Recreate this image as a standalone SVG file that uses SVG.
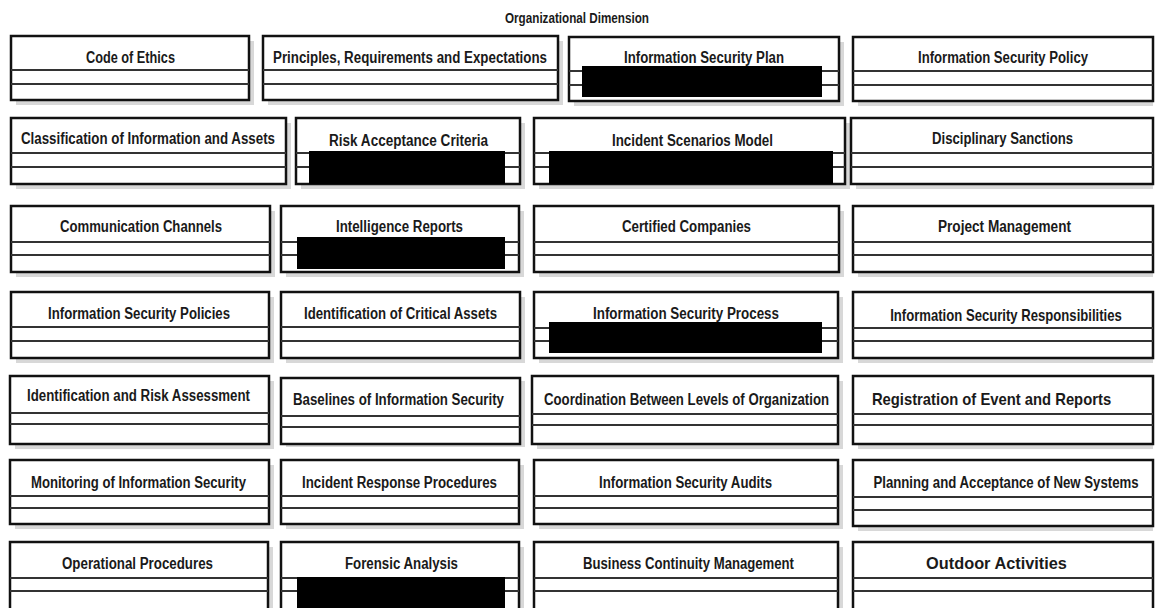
<svg xmlns="http://www.w3.org/2000/svg" width="1157" height="608" viewBox="0 0 1157 608">
<style>
.sh{fill:#d8d8d8}
.bx{fill:#fff;stroke:#111;stroke-width:2.5}
.dv{stroke:#333;stroke-width:2}
.t{font-family:"Liberation Sans Narrow","Liberation Sans",Arial,sans-serif;font-weight:bold;font-size:16px;fill:#1a1a1a;text-anchor:middle}
.rd{fill:#000}
</style>
<rect width="1157" height="608" fill="#fff"/>
<text class="t" x="577" y="23" textLength="144" lengthAdjust="spacingAndGlyphs" style="font-size:15px">Organizational Dimension</text>

<!-- Row 1 -->
<g id="code-of-ethics"><rect class="sh" x="16" y="41" width="238" height="64"/><rect class="bx" x="11" y="36" width="238" height="64"/><line class="dv" x1="11" y1="70" x2="249" y2="70"/><line class="dv" x1="11" y1="84" x2="249" y2="84"/><text class="t" x="130.5" y="63" textLength="89" lengthAdjust="spacingAndGlyphs">Code of Ethics</text></g>
<g id="principles"><rect class="sh" x="268" y="41" width="295" height="64"/><rect class="bx" x="263" y="36" width="295" height="64"/><line class="dv" x1="263" y1="70" x2="558" y2="70"/><line class="dv" x1="263" y1="84" x2="558" y2="84"/><text class="t" x="410" y="63" textLength="274" lengthAdjust="spacingAndGlyphs">Principles, Requirements and Expectations</text></g>
<g id="is-plan"><rect class="sh" x="574" y="42" width="270" height="64"/><rect class="bx" x="569" y="37" width="270" height="64"/><line class="dv" x1="569" y1="71" x2="839" y2="71"/><line class="dv" x1="569" y1="85" x2="839" y2="85"/><text class="t" x="704" y="63" textLength="160" lengthAdjust="spacingAndGlyphs">Information Security Plan</text><rect class="rd" x="582" y="66" width="240" height="31"/></g>
<g id="is-policy"><rect class="sh" x="858" y="42" width="295" height="64"/><rect class="bx" x="853" y="37" width="300" height="64"/><line class="dv" x1="853" y1="71" x2="1153" y2="71"/><line class="dv" x1="853" y1="85" x2="1153" y2="85"/><text class="t" x="1003" y="63" textLength="170" lengthAdjust="spacingAndGlyphs">Information Security Policy</text></g>

<!-- Row 2 -->
<g id="classification"><rect class="sh" x="16" y="123" width="275" height="66"/><rect class="bx" x="11" y="118" width="275" height="66"/><line class="dv" x1="11" y1="153" x2="286" y2="153"/><line class="dv" x1="11" y1="167" x2="286" y2="167"/><text class="t" x="148" y="144" textLength="254" lengthAdjust="spacingAndGlyphs">Classification of Information and Assets</text></g>
<g id="risk-acceptance"><rect class="sh" x="301" y="123" width="224" height="66"/><rect class="bx" x="296" y="118" width="224" height="66"/><line class="dv" x1="296" y1="153" x2="520" y2="153"/><line class="dv" x1="296" y1="167" x2="520" y2="167"/><text class="t" x="408.5" y="146" textLength="159" lengthAdjust="spacingAndGlyphs">Risk Acceptance Criteria</text><rect class="rd" x="309" y="151" width="196" height="33"/></g>
<g id="incident-scenarios"><rect class="sh" x="539" y="123" width="311" height="66"/><rect class="bx" x="534" y="118" width="311" height="66"/><line class="dv" x1="534" y1="153" x2="845" y2="153"/><line class="dv" x1="534" y1="167" x2="845" y2="167"/><text class="t" x="692.5" y="146" textLength="161" lengthAdjust="spacingAndGlyphs">Incident Scenarios Model</text><rect class="rd" x="549" y="151" width="284" height="33"/></g>
<g id="disciplinary"><rect class="sh" x="856" y="123" width="297" height="66"/><rect class="bx" x="851" y="118" width="302" height="66"/><line class="dv" x1="851" y1="153" x2="1153" y2="153"/><line class="dv" x1="851" y1="167" x2="1153" y2="167"/><text class="t" x="1002.5" y="144" textLength="141" lengthAdjust="spacingAndGlyphs">Disciplinary Sanctions</text></g>

<!-- Row 3 -->
<g id="communication"><rect class="sh" x="16" y="211" width="259" height="66"/><rect class="bx" x="11" y="206" width="259" height="66"/><line class="dv" x1="11" y1="242" x2="270" y2="242"/><line class="dv" x1="11" y1="255" x2="270" y2="255"/><text class="t" x="141" y="232" textLength="162" lengthAdjust="spacingAndGlyphs">Communication Channels</text></g>
<g id="intelligence"><rect class="sh" x="286" y="211" width="238" height="66"/><rect class="bx" x="281" y="206" width="238" height="66"/><line class="dv" x1="281" y1="242" x2="519" y2="242"/><line class="dv" x1="281" y1="255" x2="519" y2="255"/><text class="t" x="399.5" y="232" textLength="127" lengthAdjust="spacingAndGlyphs">Intelligence Reports</text><rect class="rd" x="297" y="237" width="208" height="32"/></g>
<g id="certified"><rect class="sh" x="539" y="211" width="305" height="66"/><rect class="bx" x="534" y="206" width="305" height="66"/><line class="dv" x1="534" y1="242" x2="839" y2="242"/><line class="dv" x1="534" y1="255" x2="839" y2="255"/><text class="t" x="686.5" y="232" textLength="129" lengthAdjust="spacingAndGlyphs">Certified Companies</text></g>
<g id="project-mgmt"><rect class="sh" x="858" y="211" width="295" height="66"/><rect class="bx" x="853" y="206" width="300" height="66"/><line class="dv" x1="853" y1="242" x2="1153" y2="242"/><line class="dv" x1="853" y1="255" x2="1153" y2="255"/><text class="t" x="1004.5" y="232" textLength="133" lengthAdjust="spacingAndGlyphs">Project Management</text></g>

<!-- Row 4 -->
<g id="is-policies"><rect class="sh" x="16" y="297" width="258" height="66"/><rect class="bx" x="11" y="292" width="258" height="66"/><line class="dv" x1="11" y1="327" x2="269" y2="327"/><line class="dv" x1="11" y1="341" x2="269" y2="341"/><text class="t" x="139" y="319" textLength="182" lengthAdjust="spacingAndGlyphs">Information Security Policies</text></g>
<g id="critical-assets"><rect class="sh" x="286" y="297" width="239" height="66"/><rect class="bx" x="281" y="292" width="239" height="66"/><line class="dv" x1="281" y1="327" x2="520" y2="327"/><line class="dv" x1="281" y1="341" x2="520" y2="341"/><text class="t" x="400.5" y="319" textLength="193" lengthAdjust="spacingAndGlyphs">Identification of Critical Assets</text></g>
<g id="is-process"><rect class="sh" x="539" y="297" width="304" height="66"/><rect class="bx" x="534" y="292" width="304" height="66"/><line class="dv" x1="534" y1="328" x2="838" y2="328"/><line class="dv" x1="534" y1="341" x2="838" y2="341"/><text class="t" x="686" y="319" textLength="186" lengthAdjust="spacingAndGlyphs">Information Security Process</text><rect class="rd" x="549" y="322" width="273" height="31"/></g>
<g id="is-responsibilities"><rect class="sh" x="858" y="297" width="295" height="66"/><rect class="bx" x="853" y="292" width="300" height="66"/><line class="dv" x1="853" y1="328" x2="1153" y2="328"/><line class="dv" x1="853" y1="341" x2="1153" y2="341"/><text class="t" transform="translate(1006,321) scale(0.78,1)" x="0" y="0" textLength="297" lengthAdjust="spacingAndGlyphs">Information Security Responsibilities</text></g>

<!-- Row 5 -->
<g id="risk-assessment"><rect class="sh" x="15" y="381" width="259" height="68"/><rect class="bx" x="10" y="376" width="259" height="68"/><line class="dv" x1="10" y1="413" x2="269" y2="413"/><line class="dv" x1="10" y1="424" x2="269" y2="424"/><text class="t" x="138.5" y="401" textLength="223" lengthAdjust="spacingAndGlyphs">Identification and Risk Assessment</text></g>
<g id="baselines"><rect class="sh" x="286" y="381" width="239" height="66"/><rect class="bx" x="281" y="378" width="239" height="66"/><line class="dv" x1="281" y1="416" x2="520" y2="416"/><line class="dv" x1="281" y1="427" x2="520" y2="427"/><text class="t" x="398.5" y="405" textLength="211" lengthAdjust="spacingAndGlyphs">Baselines of Information Security</text></g>
<g id="coordination"><rect class="sh" x="537" y="381" width="306" height="68"/><rect class="bx" x="532" y="376" width="306" height="68"/><line class="dv" x1="532" y1="414" x2="838" y2="414"/><line class="dv" x1="532" y1="425" x2="838" y2="425"/><text class="t" x="686.5" y="405" textLength="285" lengthAdjust="spacingAndGlyphs">Coordination Between Levels of Organization</text></g>
<g id="registration"><rect class="sh" x="858" y="381" width="295" height="68"/><rect class="bx" x="853" y="376" width="300" height="68"/><line class="dv" x1="853" y1="414" x2="1153" y2="414"/><line class="dv" x1="853" y1="425" x2="1153" y2="425"/><text class="t" transform="translate(991.5,405) scale(0.8,1)" x="0" y="0" textLength="299" lengthAdjust="spacingAndGlyphs">Registration of Event and Reports</text></g>

<!-- Row 6 -->
<g id="monitoring"><rect class="sh" x="15" y="465" width="259" height="64"/><rect class="bx" x="10" y="460" width="259" height="64"/><line class="dv" x1="10" y1="496" x2="269" y2="496"/><line class="dv" x1="10" y1="508" x2="269" y2="508"/><text class="t" x="138.5" y="488" textLength="215" lengthAdjust="spacingAndGlyphs">Monitoring of Information Security</text></g>
<g id="incident-response"><rect class="sh" x="286" y="465" width="238" height="64"/><rect class="bx" x="281" y="460" width="238" height="64"/><line class="dv" x1="281" y1="496" x2="519" y2="496"/><line class="dv" x1="281" y1="508" x2="519" y2="508"/><text class="t" x="399.5" y="488" textLength="195" lengthAdjust="spacingAndGlyphs">Incident Response Procedures</text></g>
<g id="is-audits"><rect class="sh" x="539" y="465" width="304" height="64"/><rect class="bx" x="534" y="460" width="304" height="64"/><line class="dv" x1="534" y1="496" x2="838" y2="496"/><line class="dv" x1="534" y1="508" x2="838" y2="508"/><text class="t" x="685.5" y="488" textLength="173" lengthAdjust="spacingAndGlyphs">Information Security Audits</text></g>
<g id="planning"><rect class="sh" x="858" y="465" width="295" height="66"/><rect class="bx" x="853" y="460" width="300" height="66"/><line class="dv" x1="853" y1="497" x2="1153" y2="497"/><line class="dv" x1="853" y1="510" x2="1153" y2="510"/><text class="t" transform="translate(1006,488) scale(0.78,1)" x="0" y="0" textLength="340" lengthAdjust="spacingAndGlyphs">Planning and Acceptance of New Systems</text></g>

<!-- Row 7 -->
<g id="operational"><rect class="sh" x="15" y="547" width="258" height="66"/><rect class="bx" x="10" y="542" width="258" height="70"/><line class="dv" x1="10" y1="578" x2="268" y2="578"/><line class="dv" x1="10" y1="591" x2="268" y2="591"/><text class="t" x="137.5" y="569" textLength="151" lengthAdjust="spacingAndGlyphs">Operational Procedures</text></g>
<g id="forensic"><rect class="sh" x="286" y="547" width="238" height="66"/><rect class="bx" x="281" y="542" width="238" height="70"/><line class="dv" x1="281" y1="578" x2="519" y2="578"/><line class="dv" x1="281" y1="591" x2="519" y2="591"/><text class="t" x="401.5" y="569" textLength="113" lengthAdjust="spacingAndGlyphs">Forensic Analysis</text><rect class="rd" x="297" y="577" width="208" height="31"/></g>
<g id="business-continuity"><rect class="sh" x="539" y="547" width="304" height="66"/><rect class="bx" x="534" y="542" width="304" height="70"/><line class="dv" x1="534" y1="578" x2="838" y2="578"/><line class="dv" x1="534" y1="591" x2="838" y2="591"/><text class="t" x="688.5" y="569" textLength="211" lengthAdjust="spacingAndGlyphs">Business Continuity Management</text></g>
<g id="outdoor"><rect class="sh" x="858" y="547" width="295" height="66"/><rect class="bx" x="853" y="542" width="300" height="70"/><line class="dv" x1="853" y1="578" x2="1153" y2="578"/><line class="dv" x1="853" y1="591" x2="1153" y2="591"/><text class="t" transform="translate(996.5,569) scale(0.8,1)" x="0" y="0" textLength="176" lengthAdjust="spacingAndGlyphs">Outdoor Activities</text></g>

<g id="connectors"></g>
</svg>
